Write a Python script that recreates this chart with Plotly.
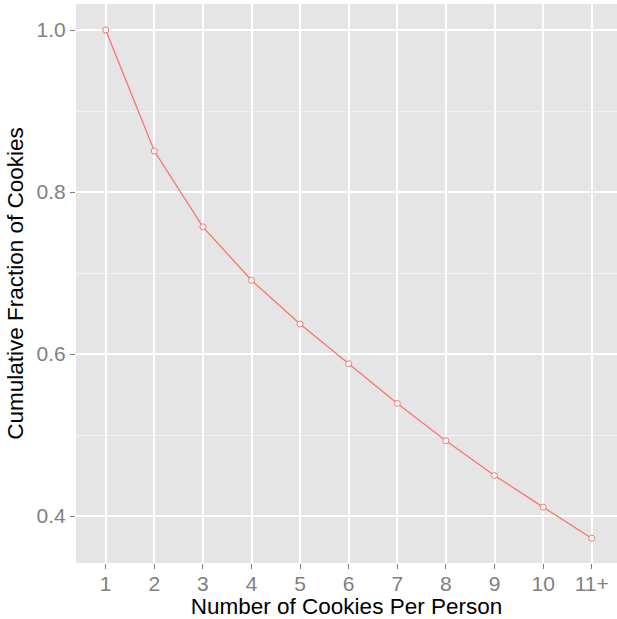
import plotly.graph_objects as go

categories = ["1", "2", "3", "4", "5", "6", "7", "8", "9", "10", "11+"]
cum_fraction = [1.0, 0.8506, 0.757, 0.691, 0.637, 0.588, 0.539, 0.493, 0.450, 0.411, 0.3725]
y_ticks = [0.4, 0.6, 0.8, 1.0]
y_tick_labels = ["0.4", "0.6", "0.8", "1.0"]

FONT = "Liberation Sans, Arial, Helvetica, sans-serif"
RED = "#F8766D"

fig = go.Figure()
fig.add_trace(go.Scatter(
    x=categories, y=cum_fraction, mode="lines+markers",
    line=dict(color=RED, width=1.3),
    marker=dict(symbol="circle", size=6, color="white", line=dict(color=RED, width=1)),
    showlegend=False, hoverinfo="x+y",
))

fig.update_layout(
    width=617, height=619,
    margin=dict(l=76, r=0, t=4, b=56, autoexpand=False),
    paper_bgcolor="white", plot_bgcolor="#E5E5E5",
    font=dict(family=FONT, color="black"),
    xaxis=dict(
        type="category", categoryorder="array", categoryarray=categories,
        range=[-0.611, 10.52], automargin=False,
        showgrid=True, gridcolor="white", gridwidth=1.6,
        zeroline=False, showline=False,
        ticks="outside", ticklen=5, tickwidth=1, tickcolor="#7F7F7F",
        ticklabelstandoff=-3,
        tickfont=dict(family=FONT, size=21, color="#7F7F7F"),
        title=dict(text="Number of Cookies Per Person", font=dict(family=FONT, size=22.5, color="black"), standoff=0),
    ),
    yaxis=dict(
        range=[0.342, 1.0321], automargin=False,
        tickvals=y_ticks, ticktext=y_tick_labels,
        showgrid=True, gridcolor="white", gridwidth=1.6,
        zeroline=False, showline=False,
        ticks="outside", ticklen=5, tickwidth=1, tickcolor="#7F7F7F",
        tickfont=dict(family=FONT, size=21, color="#7F7F7F"),
        minor=dict(tickvals=[0.5, 0.7, 0.9], showgrid=True, gridcolor="#F2F2F2", gridwidth=0.8, ticks=""),
        title=dict(text="Cumulative Fraction of Cookies", font=dict(family=FONT, size=22.5, color="black"), standoff=6),
    ),
)

fig.write_html(
    "out.html",
    config={"displayModeBar": False},
    post_script="document.body.style.margin='0';document.body.style.overflow='hidden';",
)
